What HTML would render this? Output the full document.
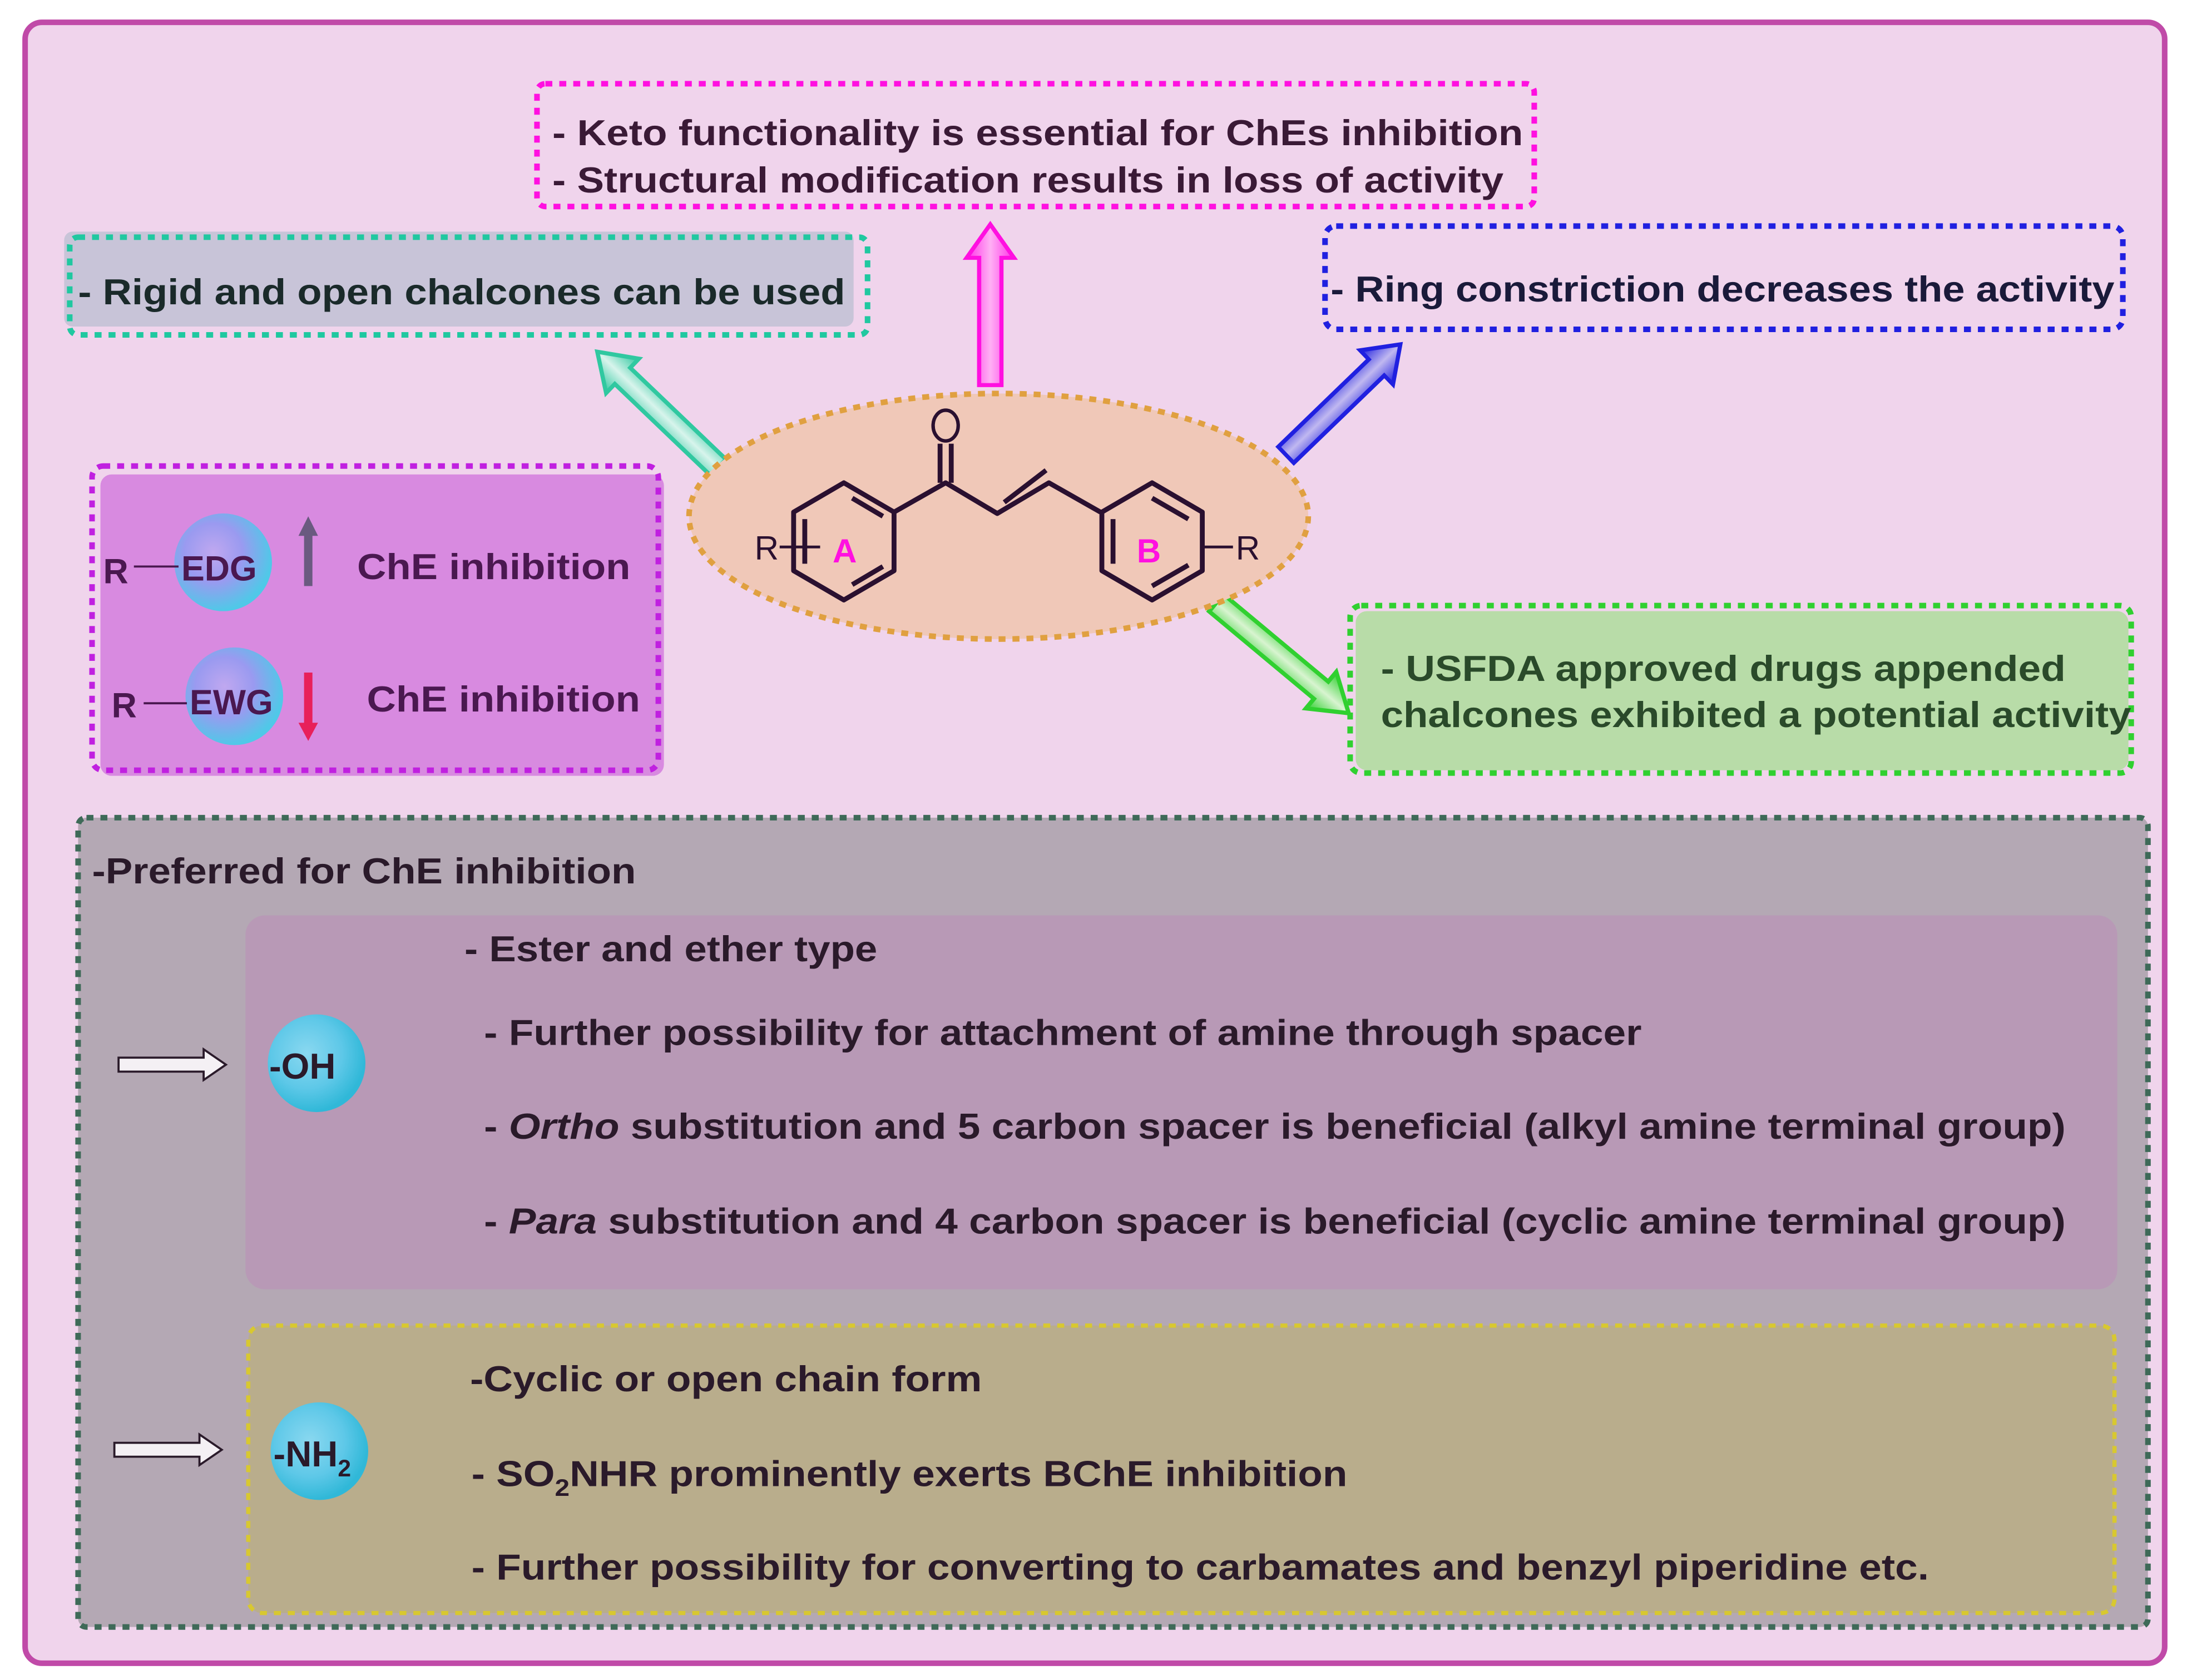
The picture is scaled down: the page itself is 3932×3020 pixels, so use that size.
<!DOCTYPE html>
<html><head><meta charset="utf-8"><style>
html,body{margin:0;padding:0;background:#fff;}
svg{display:block;}
text{font-family:"Liberation Sans",sans-serif;}
</style></head><body>
<svg width="3932" height="3020" viewBox="0 0 1568 1204" preserveAspectRatio="none" xmlns="http://www.w3.org/2000/svg">
<defs>
<radialGradient id="ball" cx="0.4" cy="0.4" r="0.6">
<stop offset="0" stop-color="#8ad8f0"/><stop offset="0.6" stop-color="#5ec8e8"/><stop offset="1" stop-color="#30b8d8"/>
</radialGradient>
<radialGradient id="ball2" cx="0.4" cy="0.4" r="0.6">
<stop offset="0" stop-color="#c0a8f0"/><stop offset="0.5" stop-color="#9a9af0"/><stop offset="1" stop-color="#50c8e8"/>
</radialGradient>
<linearGradient id="gm" x1="0" y1="0" x2="0" y2="1"><stop offset="0" stop-color="#ff30e8"/><stop offset="0.5" stop-color="#ffb0f4"/><stop offset="1" stop-color="#ff30e8"/></linearGradient>
<linearGradient id="gt" x1="0" y1="0" x2="0" y2="1"><stop offset="0" stop-color="#30c8a0"/><stop offset="0.5" stop-color="#d8f4ec"/><stop offset="1" stop-color="#30c8a0"/></linearGradient>
<linearGradient id="gb" x1="0" y1="0" x2="0" y2="1"><stop offset="0" stop-color="#2020e0"/><stop offset="0.5" stop-color="#c0b8f0"/><stop offset="1" stop-color="#2020e0"/></linearGradient>
<linearGradient id="gg" x1="0" y1="0" x2="0" y2="1"><stop offset="0" stop-color="#30d030"/><stop offset="0.5" stop-color="#d8f4d0"/><stop offset="1" stop-color="#30d030"/></linearGradient>
<path id="arr" d="M0,-8 L95,-8 L95,-17 L120,0 L95,17 L95,8 L0,8 Z"/>
</defs>
<rect x="0" y="0" width="1568" height="1204" fill="#ffffff"/>
<rect x="18" y="16" width="1534" height="1176" rx="12" fill="#f0d4ec" stroke="#c04aa8" stroke-width="4"/>

<!-- Keto box -->
<rect x="385" y="60" width="715" height="88" rx="6" fill="none" stroke="#ff10e0" stroke-width="4" stroke-dasharray="5,5"/>
<text x="396" y="104" font-size="26" font-weight="bold" fill="#3a1a36" textLength="696" lengthAdjust="spacingAndGlyphs">- Keto functionality is essential for ChEs inhibition</text>
<text x="396" y="138" font-size="26" font-weight="bold" fill="#3a1a36" textLength="682" lengthAdjust="spacingAndGlyphs">- Structural modification results in loss of activity</text>

<!-- Rigid box -->
<rect x="46" y="166" width="566" height="68" rx="6" fill="#c8c4d8"/>
<rect x="50" y="170" width="572" height="70" rx="6" fill="none" stroke="#20c8a0" stroke-width="4" stroke-dasharray="5,5"/>
<text x="56" y="218" font-size="26" font-weight="bold" fill="#1a2a2a" textLength="550" lengthAdjust="spacingAndGlyphs">- Rigid and open chalcones can be used</text>

<!-- Ring box -->
<rect x="950" y="162" width="572" height="74" rx="8" fill="none" stroke="#2020e0" stroke-width="4" stroke-dasharray="5,5"/>
<text x="954" y="216" font-size="26" font-weight="bold" fill="#1a1a3a" textLength="562" lengthAdjust="spacingAndGlyphs">- Ring constriction decreases the activity</text>

<!-- EDG/EWG box -->
<rect x="72" y="340" width="404" height="216" rx="8" fill="#d88ae0"/>
<rect x="66" y="334" width="406" height="218" rx="8" fill="none" stroke="#c020e0" stroke-width="4" stroke-dasharray="5,5"/>
<circle cx="160" cy="403" r="35" fill="url(#ball2)"/>
<circle cx="168" cy="499" r="35" fill="url(#ball2)"/>
<text x="74" y="418" font-size="25" font-weight="bold" fill="#4a1850">R</text>
<line x1="96" y1="406" x2="128" y2="406" stroke="#4a1850" stroke-width="1.5"/>
<text x="130" y="416" font-size="25" font-weight="bold" fill="#4a1850">EDG</text>
<text x="80" y="514" font-size="25" font-weight="bold" fill="#4a1850">R</text>
<line x1="103" y1="504" x2="134" y2="504" stroke="#4a1850" stroke-width="1.5"/>
<text x="136" y="512" font-size="25" font-weight="bold" fill="#4a1850">EWG</text>
<path d="M218,420 L224,420 L224,384 L228,384 L221,370 L214,384 L218,384 Z" fill="#6a5a80"/>
<path d="M218,482 L224,482 L224,518 L228,518 L221,531 L214,518 L218,518 Z" fill="#e8205a"/>
<text x="256" y="415" font-size="26" font-weight="bold" fill="#4a1850" textLength="196" lengthAdjust="spacingAndGlyphs">ChE inhibition</text>
<text x="263" y="510" font-size="26" font-weight="bold" fill="#4a1850" textLength="196" lengthAdjust="spacingAndGlyphs">ChE inhibition</text>

<!-- USFDA box -->
<rect x="972" y="438" width="554" height="114" rx="8" fill="#b8dca8"/>
<rect x="968" y="434" width="560" height="120" rx="8" fill="none" stroke="#30d030" stroke-width="4" stroke-dasharray="5,5"/>
<text x="990" y="488" font-size="26" font-weight="bold" fill="#2a4a2a" textLength="491" lengthAdjust="spacingAndGlyphs">- USFDA approved drugs appended</text>
<text x="990" y="521" font-size="26" font-weight="bold" fill="#2a4a2a" textLength="538" lengthAdjust="spacingAndGlyphs">chalcones exhibited a potential activity</text>

<!-- Arrows -->
<use href="#arr" fill="url(#gm)" stroke="#ff10e0" stroke-width="3" transform="translate(710,276) rotate(-90) scale(0.96,1)"/>
<use href="#arr" fill="url(#gt)" stroke="#30c8a0" stroke-width="3" transform="translate(515,335) rotate(-136.3)"/>
<use href="#arr" fill="url(#gb)" stroke="#2020e0" stroke-width="3" transform="translate(922,326) rotate(-44) scale(0.95,1)"/>
<use href="#arr" fill="url(#gg)" stroke="#30d030" stroke-width="3" transform="translate(872,432) rotate(39.8) scale(1.03,1)"/>

<!-- Ellipse + chalcone -->
<ellipse cx="716" cy="370" rx="222" ry="88" fill="#f0c8b8" stroke="#e0a040" stroke-width="4" stroke-dasharray="5,5"/>
<g stroke="#2a1030" stroke-width="3.5" fill="none" stroke-linejoin="round">
<path d="M605,346 L641,367 L641,409 L605,430 L569,409 L569,367 Z"/>
<path d="M611,357 L633,370 M633,406 L611,419 M577,372 L577,404"/>
<path d="M641,367 L678,346 L715,368 L752,346 L789,367"/>
<path d="M674,346 L674,318 M682,346 L682,318"/>
<path d="M720,360 L750,337"/>
<path d="M826,346 L862,367 L862,409 L826,430 L790,409 L790,367 Z"/>
<path d="M826,357 L852,372 M852,405 L826,420 M798,372 L798,404"/>
</g>
<ellipse cx="678" cy="305" rx="9" ry="11" fill="none" stroke="#2a1030" stroke-width="2.5"/>
<line x1="559" y1="392" x2="588" y2="392" stroke="#2a1030" stroke-width="2"/>
<line x1="862" y1="392" x2="884" y2="392" stroke="#2a1030" stroke-width="2"/>
<text x="541" y="401" font-size="24" fill="#2a1030">R</text>
<text x="886" y="401" font-size="24" fill="#2a1030">R</text>
<text x="597" y="403" font-size="24" font-weight="bold" fill="#ff10e0">A</text>
<text x="815" y="403" font-size="24" font-weight="bold" fill="#ff10e0">B</text>

<!-- Bottom box -->
<rect x="56" y="586" width="1484" height="580" rx="6" fill="#b4a8b4" stroke="#3e6a58" stroke-width="4" stroke-dasharray="5,5"/>
<text x="66" y="633" font-size="26" font-weight="bold" fill="#2a1a2a" textLength="390" lengthAdjust="spacingAndGlyphs">-Preferred for ChE inhibition</text>
<rect x="176" y="656" width="1342" height="268" rx="14" fill="#b899b6"/>
<rect x="178" y="950" width="1338" height="206" rx="10" fill="#b9ad8c" stroke="#d8c830" stroke-width="3" stroke-dasharray="5,5"/>

<circle cx="227" cy="762" r="35" fill="url(#ball)"/>
<text x="193" y="773" font-size="26" font-weight="bold" fill="#2a1a2a">-OH</text>
<circle cx="229" cy="1040" r="35" fill="url(#ball)"/>
<text x="196" y="1051" font-size="26" font-weight="bold" fill="#2a1a2a">-NH<tspan font-size="17" dy="7">2</tspan></text>

<path d="M85,758 L146,758 L146,752 L162,763 L146,774 L146,768 L85,768 Z" fill="#f4f0f4" stroke="#2a1a2a" stroke-width="1.5"/>
<path d="M82,1034 L143,1034 L143,1028 L159,1039 L143,1050 L143,1044 L82,1044 Z" fill="#f4f0f4" stroke="#2a1a2a" stroke-width="1.5"/>

<g font-size="26" font-weight="bold" fill="#2a1a2a">
<text x="333" y="689" textLength="296" lengthAdjust="spacingAndGlyphs">- Ester and ether type</text>
<text x="347" y="749" textLength="830" lengthAdjust="spacingAndGlyphs">- Further possibility for attachment of amine through spacer</text>
<text x="347" y="816" textLength="1134" lengthAdjust="spacingAndGlyphs">- <tspan font-style="italic">Ortho</tspan> substitution and 5 carbon spacer is beneficial (alkyl amine terminal group)</text>
<text x="347" y="884" textLength="1134" lengthAdjust="spacingAndGlyphs">- <tspan font-style="italic">Para</tspan> substitution and 4 carbon spacer is beneficial (cyclic amine terminal group)</text>
<text x="337" y="997" textLength="367" lengthAdjust="spacingAndGlyphs">-Cyclic or open chain form</text>
<text x="338" y="1065" textLength="628" lengthAdjust="spacingAndGlyphs">- SO<tspan font-size="17" dy="7">2</tspan><tspan dy="-7">NHR prominently exerts BChE inhibition</tspan></text>
<text x="338" y="1132" textLength="1045" lengthAdjust="spacingAndGlyphs">- Further possibility for converting to carbamates and benzyl piperidine etc.</text>
</g>
</svg>
</body></html>
